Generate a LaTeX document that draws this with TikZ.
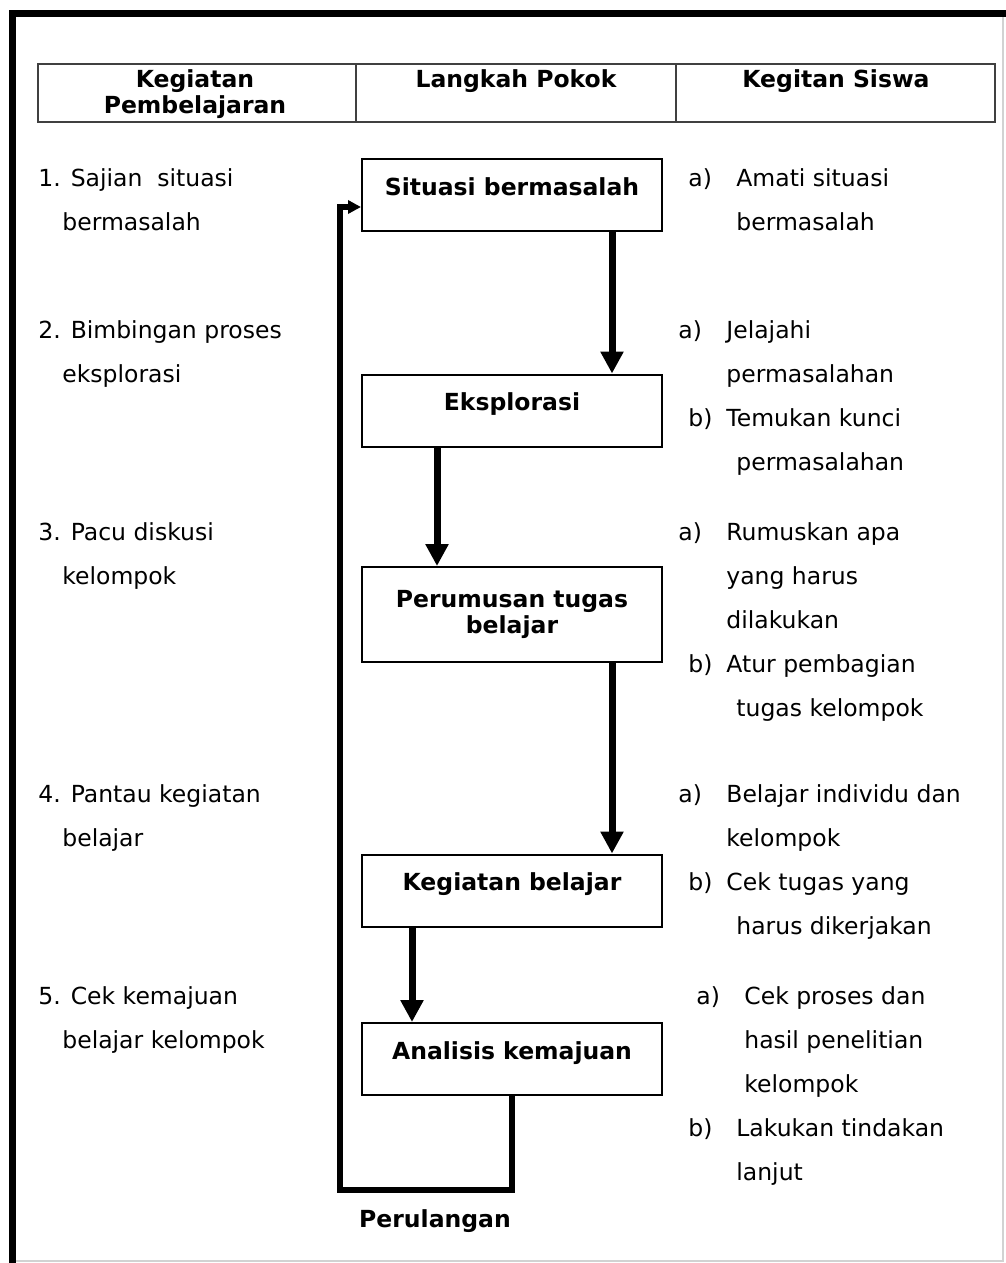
\documentclass[tikz,border=0pt]{standalone}
\usepackage{fontspec}
\setmainfont{DejaVu Sans}
\usetikzlibrary{arrows.meta}
\newcommand{\ukuran}{\fontsize{11.75pt}{14pt}\selectfont}
\tikzset{
  Kotak/.style={draw,line width=1pt,minimum width=150pt,minimum height=#1,
    inner sep=0pt,font=\ukuran\bfseries,align=center}, % Kotak langkah
  Kotak/.default=36pt,
  Satu/.style={Kotak,text height=7pt,text depth=7pt}, % satu baris
  Panah/.style={line width=3.5pt,-{Triangle[width=11pt,length=11pt]}},
  Ulang/.style={line width=3pt,-{Triangle[width=6.5pt,length=6.5pt]}},
  Teks/.style={anchor=base west,inner sep=0pt},
  Judul/.style={anchor=base,inner sep=0pt,font=\ukuran\bfseries},
  Garis/.style={draw=black!75,line width=1pt}
}

\begin{document}
\begin{tikzpicture}[x=0.5pt,y=-0.5pt,font=\ukuran,>=latex]
\useasboundingbox (0,0) rectangle (1006,1263);

%Bingkai
\draw[gray!35,line width=1pt] (12,1261) -- (1003,1261) -- (1003,14);
\draw[line width=3.5pt] (12,1263) -- (12,14) -- (1006,14);

%Kepala tabel
\draw[Garis] (38,64) rectangle (995,122);
\draw[Garis] (356,64) -- (356,122);
\draw[Garis] (676,64) -- (676,122);
\node[Judul] (kepala-1a) at (195,88) {Kegiatan};
\node[Judul] (kepala-1b) at (195,113) {Pembelajaran};
\node[Judul] (kepala-2) at (516,88) {Langkah Pokok};
\node[Judul] (kepala-3) at (836,88) {Kegitan Siswa};

%Langkah pokok
\node[Satu] (situasi) at (512,195) {Situasi bermasalah};
\node[Satu] (eksplorasi) at (512,410.5) {Eksplorasi};
\node[Kotak=47.5pt,font=\fontsize{11.75pt}{13pt}\selectfont\bfseries]
  (perumusan) at (512,614.5) {Perumusan tugas\\belajar};
\node[Satu] (kegiatan) at (512,890.5) {Kegiatan belajar};
\node[Satu] (analisis) at (512,1059) {Analisis kemajuan};

%Panah
\draw[Panah] ([xshift=50pt]situasi.south) -- ([xshift=50pt]eksplorasi.north);
\draw[Panah] ([xshift=-37.5pt]eksplorasi.south) -- ([xshift=-37.5pt]perumusan.north);
\draw[Panah] ([xshift=50pt]perumusan.south) -- ([xshift=50pt]kegiatan.north);
\draw[Panah] ([xshift=-50pt]kegiatan.south) -- ([xshift=-50pt]analisis.north);

%Perulangan
\coordinate (balik) at (340,1190);
\draw[Ulang] (analisis.south) |- (balik) |- ([yshift=-6pt]situasi.west);
\node[Judul] (perulangan) at (435,1227) {Perulangan};

%Kegiatan pembelajaran
\foreach \x/\y/\t [count=\n] in {
  38/186/{1. Sajian~ situasi}, 62/230/bermasalah,
  38/338/{2. Bimbingan proses}, 62/382/eksplorasi,
  38/540/{3. Pacu diskusi}, 62/584/kelompok,
  38/802/{4. Pantau kegiatan}, 62/846/belajar,
  38/1004/{5. Cek kemajuan}, 62/1048/{belajar kelompok}}
  \node[Teks] (kiri-\n) at (\x,\y) {\t};

%Kegiatan siswa
\foreach \x/\y/\t [count=\n] in {
  688/186/a), 736/186/{Amati situasi}, 736/230/bermasalah,
  678/338/a), 726/338/Jelajahi, 726/382/permasalahan,
  688/426/b), 726/426/{Temukan kunci}, 736/470/permasalahan,
  678/540/a), 726/540/{Rumuskan apa}, 726/584/{yang harus}, 726/628/dilakukan,
  688/672/b), 726/672/{Atur pembagian}, 736/716/{tugas kelompok},
  678/802/a), 726/802/{Belajar individu dan}, 726/846/kelompok,
  688/890/b), 726/890/{Cek tugas yang}, 736/934/{harus dikerjakan},
  696/1004/a), 744/1004/{Cek proses dan}, 744/1048/{hasil penelitian},
  744/1092/kelompok,
  688/1136/b), 736/1136/{Lakukan tindakan}, 736/1180/lanjut}
  \node[Teks] (kanan-\n) at (\x,\y) {\t};

\end{tikzpicture}
\end{document}
